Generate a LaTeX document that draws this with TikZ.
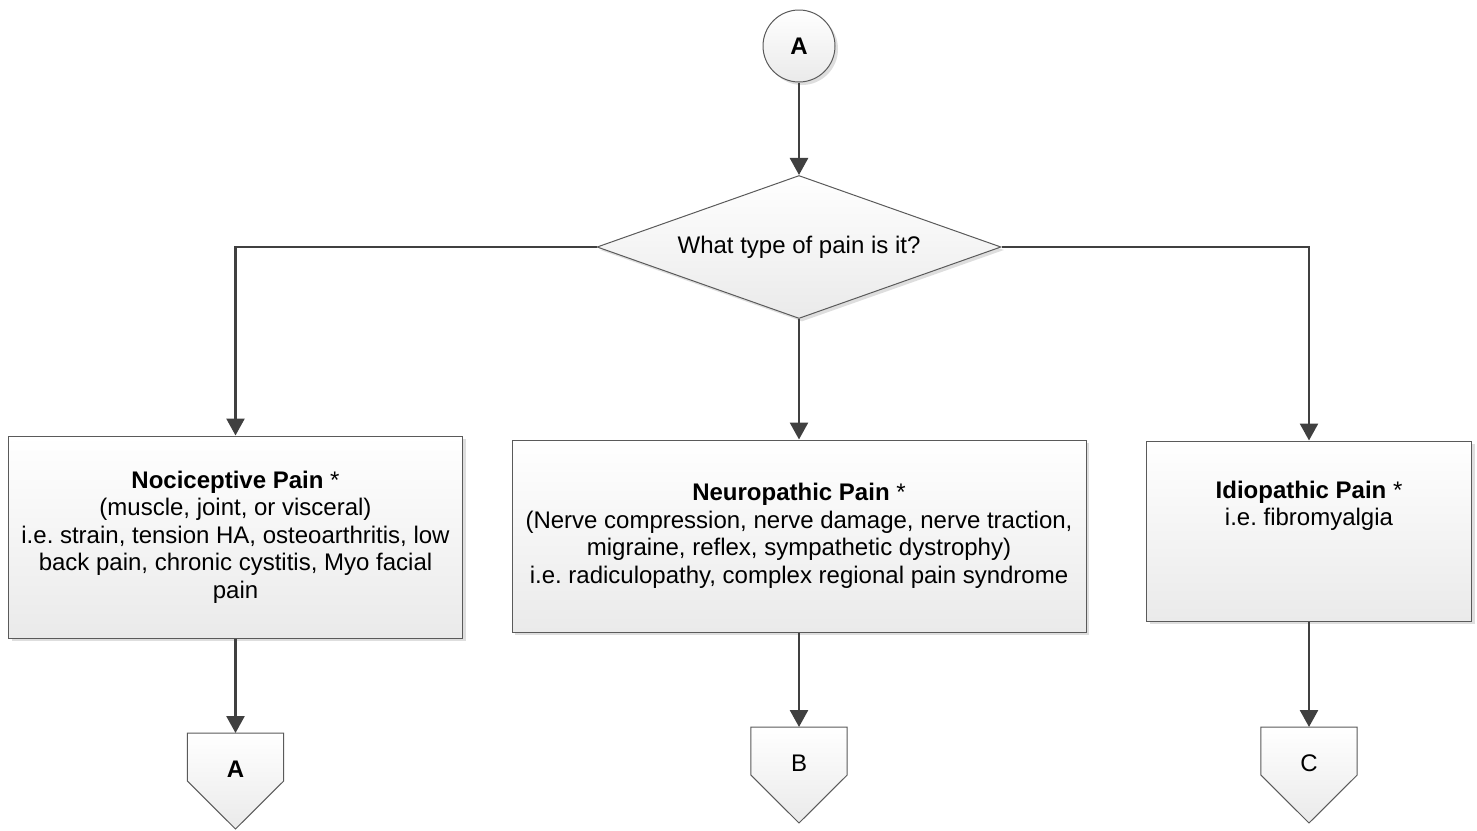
\documentclass[tikz,border=0pt]{standalone}
\usepackage{fontspec}
\setmainfont{Liberation Sans}
\frenchspacing
\usetikzlibrary{shapes.geometric,arrows.meta,shadows,calc}
\definecolor{linegray}{HTML}{404040}
\definecolor{bordergray}{HTML}{5A5A5A}
\definecolor{fillbottom}{HTML}{EAEAEA}
\pgfdeclarelayer{background}
\pgfsetlayers{background,main}
\tikzset{
  txt/.style={font=\fontsize{24}{27.5}\selectfont, align=center, inner sep=0pt},
  shaded/.style={draw=bordergray, line width=1pt, top color=white, bottom color=fillbottom},
  shad/.style={drop shadow={shadow xshift=3pt, shadow yshift=-3pt, fill=black, opacity=0.13}},
  box/.style={txt, rectangle, shaded, shad},
  startc/.style={txt, circle, shaded, shad, minimum size=72pt},
  decision/.style={txt, diamond, shaded, shad, aspect=2.83, minimum width=404pt, minimum height=143pt},
  offpg/.style={txt, rectangle, minimum width=96pt, minimum height=72pt, anchor=north},
  conn/.style={line width=2.6pt, draw=linegray, -{Triangle[length=17pt,width=18pt]}},
}
\begin{document}
\begin{tikzpicture}[x=1pt,y=1pt]
\useasboundingbox (0,0) rectangle (1477,-830);

\node[startc] (cA) at (799,-46) {\textbf{A}};
\node[decision] (dia) at (799,-247) {What type of pain is it?};

\node[box, minimum width=454pt, minimum height=202pt] (b1) at (235.5,-537)
  {\textbf{Nociceptive Pain} *\\(muscle, joint, or visceral)\\i.e. strain, tension HA, osteoarthritis, low\\back pain, chronic cystitis, Myo facial\\pain};
\node[box, minimum width=574pt, minimum height=192pt] (b2) at (799,-536)
  {\textbf{Neuropathic Pain} *\\(Nerve compression, nerve damage, nerve traction,\\migraine, reflex, sympathetic dystrophy)\\i.e. radiculopathy, complex regional pain syndrome};
\node[box, minimum width=325pt, minimum height=180pt] (b3) at (1309,-531)
  {\textbf{Idiopathic Pain} *\\i.e. fibromyalgia\\~\\~};

\node[offpg] (oA) at (235.5,-733) {\textbf{A}};
\node[offpg] (oB) at (799,-727) {B};
\node[offpg] (oC) at (1309,-727) {C};

\begin{pgfonlayer}{background}
\foreach \n in {oA,oB,oC}{
  \fill[black, opacity=0.13, shift={(3pt,-3pt)}] (\n.north west) -- (\n.north east) -- ([yshift=-48pt]\n.north east) -- ([yshift=-96pt]\n.north) -- ([yshift=-48pt]\n.north west) -- cycle;
  \path[shaded] (\n.north west) -- (\n.north east) -- ([yshift=-48pt]\n.north east) -- ([yshift=-96pt]\n.north) -- ([yshift=-48pt]\n.north west) -- cycle;
}
\end{pgfonlayer}

\draw[conn] (cA) -- (dia);
\draw[conn] (dia.west) -| (b1.north);
\draw[conn] (dia.south) -- (b2.north);
\draw[conn] (dia.east) -| (b3.north);
\draw[conn] (b1.south) -- (oA.north);
\draw[conn] (b2.south) -- (oB.north);
\draw[conn] (b3.south) -- (oC.north);
\end{tikzpicture}
\end{document}
